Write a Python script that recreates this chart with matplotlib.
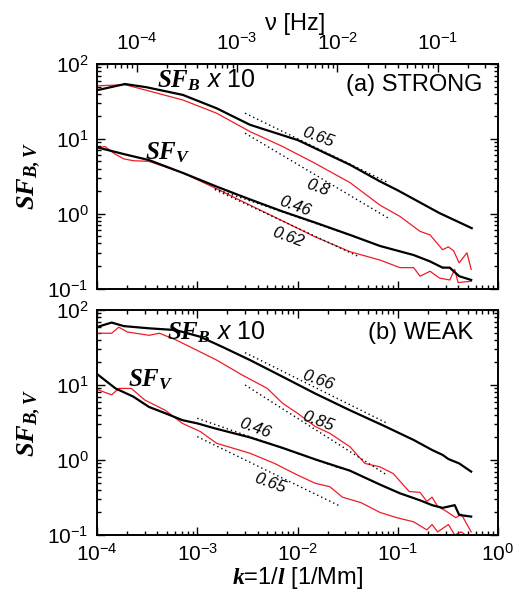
import numpy as np
import matplotlib
matplotlib.use("Agg")
import matplotlib.pyplot as plt

plt.rcParams['font.family'] = ['Liberation Sans', 'DejaVu Sans']
plt.rcParams['mathtext.fontset'] = 'custom'
plt.rcParams['mathtext.rm'] = 'Liberation Sans'
plt.rcParams['mathtext.it'] = 'Liberation Sans:italic'
plt.rcParams['mathtext.bf'] = 'Liberation Serif:bold:italic'

# ---- data ----
# (a) STRONG
k_a_sfb = [1.03e-4, 1.9e-4, 3.1e-4, 7.2e-4, 1.56e-3, 3.36e-3, 1.01e-2, 3.34e-2, 0.0665, 0.1,
           0.26, 0.547]
a_sfb_black = [45, 54, 49, 38.6, 25.6, 15.4, 9.6, 4.5, 2.7, 2.05,
               1.02, 0.64]
k_a_sfb_red = [1.0e-4, 1.9e-4, 7.2e-4, 1.56e-3, 3.36e-3, 7.1e-3, 1.5e-2, 3.34e-2, 0.0665, 0.105,
               0.167, 0.21, 0.28, 0.32, 0.36, 0.41, 0.49, 0.54]
a_sfb_red = [51, 53, 33, 22, 12.5, 7.9, 4.7, 2.6, 1.3, 0.92,
             0.58, 0.52, 0.33, 0.36, 0.32, 0.22, 0.30, 0.18]
k_a_sfv = [1.0e-4, 1.9e-4, 3.3e-4, 7.2e-4, 1.56e-3, 3.36e-3, 7.1e-3, 1.5e-2, 3.34e-2, 0.0665,
           0.144, 0.21, 0.28, 0.33, 0.41, 0.54]
a_sfv_black = [7.7, 6.2, 5.2, 3.5, 2.3, 1.55, 1.07, 0.76, 0.52, 0.37,
               0.28, 0.23, 0.19, 0.19, 0.146, 0.13]
k_a_sfv_red = [1.0e-4, 1.2e-4, 1.5e-4, 1.85e-4, 2.3e-4, 3.3e-4, 7.2e-4, 1.56e-3, 3.36e-3, 7.1e-3,
               1.5e-2, 3.34e-2, 0.0665, 0.105, 0.144, 0.167, 0.21, 0.26, 0.33, 0.37,
               0.40, 0.54]
a_sfv_red = [7.5, 7.9, 6.3, 5.4, 5.1, 5.0, 3.5, 2.15, 1.3, 0.8,
             0.49, 0.31, 0.24, 0.19, 0.19, 0.146, 0.17, 0.138, 0.13, 0.18,
             0.12, 0.125]

# (b) WEAK
k_b_sfb = [1.03e-4, 1.4e-4, 1.85e-4, 3.3e-4, 6.1e-4, 1.07e-3, 1.8e-3, 3.36e-3, 7.1e-3, 1.5e-2,
           3.34e-2, 7.1e-2, 0.144, 0.22, 0.28, 0.32, 0.41, 0.54]
b_sfb_black = [60, 68, 61, 57, 54, 44, 32, 21.5, 12.9, 7.7,
               4.6, 2.9, 1.85, 1.36, 1.17, 1.03, 0.9, 0.7]
k_b_sfb_red = [1.03e-4, 1.4e-4, 1.65e-4, 2.0e-4, 3.3e-4, 4.2e-4, 6.1e-4, 9.0e-4, 1.56e-3, 2.8e-3,
               5.0e-3, 7.1e-3, 1.0e-2, 1.5e-2, 2.1e-2, 3.34e-2, 4.7e-2, 0.0665, 0.09, 0.13,
               0.167, 0.195, 0.22, 0.25, 0.30, 0.38, 0.43, 0.54]
b_sfb_red = [49, 49, 59, 51, 46, 49, 40, 31, 21.5, 13.6,
             9, 5.7, 4.2, 2.8, 2.27, 1.5, 0.9, 0.81, 0.66, 0.38,
             0.37, 0.28, 0.32, 0.24, 0.21, 0.17, 0.19, 0.11]
k_b_sfv = [1.03e-4, 1.53e-4, 2.3e-4, 3.3e-4, 4.8e-4, 7.1e-4, 1.0e-3, 1.5e-3, 3.36e-3, 7.1e-3,
           1.5e-2, 3.34e-2, 0.0665, 0.105, 0.167, 0.22, 0.28, 0.37, 0.41, 0.54]
b_sfv_black = [13.6, 9.0, 7.0, 5.1, 4.2, 3.4, 3.08, 2.64, 2.0, 1.45,
               1.02, 0.72, 0.47, 0.36, 0.29, 0.25, 0.23, 0.25, 0.185, 0.176]
k_b_sfv_red = [1.03e-4, 1.4e-4, 1.65e-4, 2.2e-4, 3.0e-4, 4.8e-4, 7.1e-4, 1.07e-3, 1.56e-3, 3.36e-3,
               5.9e-3, 1.0e-2, 1.5e-2, 2.1e-2, 2.8e-2, 4.3e-2, 0.0665, 0.098, 0.144, 0.195,
               0.22, 0.25, 0.32, 0.37, 0.43, 0.54]
b_sfv_red = [8.6, 7.4, 9.0, 9.0, 6.3, 4.6, 3.08, 2.4, 1.67, 1.23,
             0.9, 0.63, 0.49, 0.44, 0.32, 0.27, 0.2, 0.17, 0.15, 0.117,
             0.138, 0.11, 0.138, 0.1, 0.11, 0.088]

# power-law fits: (k_start, k_end), (value_start, value_end), slope label
fits_a = [((3.0e-3, 0.08), (22.0, 2.6), '0.65'),
          ((3.0e-3, 0.08), (11.9, 0.875), '0.8'),
          ((1.5e-3, 0.04), (2.15, 0.475), '0.46'),
          ((1.5e-3, 0.04), (2.1, 0.27), '0.62')]
fits_b = [((3.0e-3, 0.078), (27.0, 3.1), '0.66'),
          ((3.0e-3, 0.078), (10.0, 0.63), '0.85'),
          ((1.0e-3, 0.027), (3.6, 0.77), '0.46'),
          ((1.0e-3, 0.027), (2.05, 0.24), '0.65')]
slope_pos_a = [(0.016, 10.6), (0.016, 2.22), (0.0094, 1.24), (0.008, 0.49)]
slope_pos_b = [(0.016, 11.7), (0.016, 3.24), (0.0038, 2.65), (0.0053, 0.49)]

nu_per_k = 0.4   # nu [Hz] = 0.4 * k [1/Mm]
nu_ticks = [1e-4, 1e-3, 1e-2, 1e-1]

RED = '#ee1c25'

W, H = 521, 597
fig = plt.figure(figsize=(W / 100, H / 100), dpi=100)


def px_axes(left, top, right, bottom):
    return fig.add_axes([left / W, 1 - bottom / H, (right - left) / W, (bottom - top) / H])


ax1 = px_axes(97, 64, 498, 288.5)
ax2 = px_axes(97, 310, 498, 535)


def style(ax):
    ax.set_xscale('log')
    ax.set_yscale('log')
    ax.set_xlim(1e-4, 1)
    ax.set_ylim(0.1, 100)
    for s in ax.spines.values():
        s.set_linewidth(1.4)
    ax.tick_params(which='both', direction='in', right=True, labelsize=15, pad=6, width=1.0)
    ax.tick_params(which='major', length=6)
    ax.tick_params(which='minor', length=3)
    ax.set_ylabel(r'$\mathbf{SF_{B,V}}$', fontsize=19)
    ax.yaxis.set_label_coords(-0.135, 0.5)


def draw_panel(ax, curves, fits, slope_pos, texts):
    for k, v, c, lw in curves:
        ax.plot(k, v, color=c, lw=lw)
    for (kk, vv, lab), (tx, ty) in zip(fits, slope_pos):
        ax.plot(kk, vv, color='black', lw=1.0, ls=(0, (1, 2.2)))
        ax.text(tx, ty, lab, fontsize=12, style='italic', rotation=-20,
                ha='center', va='center')
    for tx, ty, s in texts:
        ax.text(tx, ty, s, fontsize=18, ha='left', va='baseline')


style(ax1)
style(ax2)

draw_panel(ax1,
           [(k_a_sfb_red, a_sfb_red, RED, 0.9), (k_a_sfv_red, a_sfv_red, RED, 0.9),
            (k_a_sfb, a_sfb_black, 'black', 1.6), (k_a_sfv, a_sfv_black, 'black', 1.6)],
           fits_a, slope_pos_a,
           [(4.0e-4, 48, r'$\mathbf{SF_B}\ \mathit{x\ 10}$'), (3.0e-4, 5.25, r'$\mathbf{SF_V}$')])
draw_panel(ax2,
           [(k_b_sfb_red, b_sfb_red, RED, 0.9), (k_b_sfv_red, b_sfv_red, RED, 0.9),
            (k_b_sfb, b_sfb_black, 'black', 1.6), (k_b_sfv, b_sfv_black, 'black', 1.6)],
           fits_b, slope_pos_b,
           [(5.0e-4, 40, r'$\mathbf{SF_B}\ \mathit{x\ 10}$'), (2.04e-4, 9.5, r'$\mathbf{SF_V}$')])

ax1.text(0.96, 0.906, '(a) STRONG', transform=ax1.transAxes, fontsize=17, ha='right', va='center')
ax2.text(0.938, 0.898, '(b) WEAK', transform=ax2.transAxes, fontsize=17, ha='right', va='center')

# top panel: frequency axis on top, bottom labels hidden
ax1.tick_params(which='both', top=False, labelbottom=False)
sec = ax1.secondary_xaxis('top', functions=(lambda k: k * nu_per_k, lambda n: n / nu_per_k))
sec.set_xticks(nu_ticks)
sec.tick_params(which='both', direction='in', labelsize=15, pad=7, width=1.0)
sec.tick_params(which='major', length=6)
sec.tick_params(which='minor', length=3)
sec.spines['top'].set_linewidth(1.4)
fig.text(295 / W, 1 - 24 / H, 'ν [Hz]', fontsize=17, ha='center', va='center')

ax2.tick_params(which='both', top=True)
ax2.set_xlabel(r'$\mathbf{k}$=1/$\mathbf{l}$ [1/Mm]', fontsize=17, labelpad=0)

fig.savefig('out.png', dpi=100)
